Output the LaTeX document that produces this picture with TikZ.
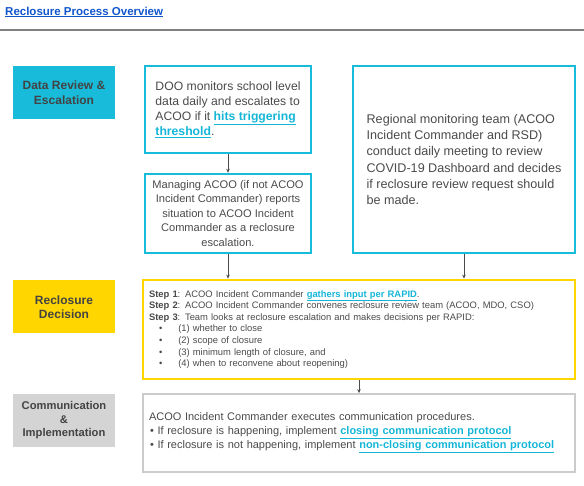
\documentclass[tikz,border=0pt]{standalone}
\usepackage{fontspec}
\setmainfont{Liberation Sans}
\usetikzlibrary{arrows.meta,positioning,calc}
\definecolor{stagecyan}{RGB}{24,188,218}
\definecolor{stageyellow}{RGB}{255,214,0}
\definecolor{stagegray}{RGB}{212,212,212}
\definecolor{linkcyan}{RGB}{20,182,216}
\definecolor{titleblue}{RGB}{17,85,204}
\definecolor{bodygray}{RGB}{74,74,74}
\definecolor{labelgray}{RGB}{67,67,67}
\definecolor{framegray}{RGB}{204,204,204}
\newcommand{\linktext}[1]{\textcolor{linkcyan}{\textbf{\underline{#1}}}}

\begin{document}
\begin{tikzpicture}[x=1pt, y=-1pt,
    stage/.style={minimum width=102pt, minimum height=53pt, align=center, text=labelgray, inner sep=1pt,
        font=\bfseries\fontsize{12}{14.5}\selectfont},
    infobox/.style={draw=stagecyan, line width=2.4pt, align=left, text=bodygray, inner sep=0pt},
    arr/.style={-{Stealth[length=4pt,width=3.5pt]}, line width=0.6pt, draw=bodygray}
]
\useasboundingbox (0,0) rectangle (584,486);

% heading
\node[anchor=west, inner sep=0pt, text=titleblue, font=\bfseries\fontsize{11.5}{14}\selectfont] (title) at (5,12) {\underline{Reclosure Process Overview}};
\draw[line width=1.4pt, draw=gray] (0,30) -- (584,30);

% stage labels
\node[stage, fill=stagecyan] (review) at (64,92.5) {Data Review \&\\Escalation};
\node[stage, fill=stageyellow] (decision) at (64,307) {Reclosure\\Decision};
\node[stage, fill=stagegray, font=\bfseries\fontsize{11.2}{13.5}\selectfont] (comms) at (64,420.5) {Communication\\\&\\Implementation};

% boxes
\node[infobox, minimum width=166pt, minimum height=87pt, font=\fontsize{12.2}{15.2}\selectfont] (doo) at (228,109.5)
    {DOO monitors school level\\data daily and escalates to\\ACOO if it \linktext{hits triggering}\\\linktext{threshold}.};
\node[infobox, minimum width=222pt, minimum height=187pt, font=\fontsize{12.6}{16.2}\selectfont] (regional) at (464,159.5)
    {Regional monitoring team (ACOO\\Incident Commander and RSD)\\conduct daily meeting to review\\COVID-19 Dashboard and decides\\if reclosure review request should\\be made.};
\node[infobox, align=center, minimum width=166pt, minimum height=79pt, font=\fontsize{11.1}{14.5}\selectfont] (managing) at (228,213.5)
    {Managing ACOO (if not ACOO\\Incident Commander) reports\\situation to ACOO Incident\\Commander as a reclosure\\escalation.};
\node[infobox, draw=stageyellow, line width=2.8pt, text width=420pt, minimum height=99pt, inner xsep=6pt,
    font=\fontsize{9.4}{11.6}\selectfont] (steps) at (359,329.5)
    {\textbf{Step 1}: ACOO Incident Commander \linktext{gathers input per RAPID}.\\
     \textbf{Step 2}: ACOO Incident Commander convenes reclosure review team (ACOO, MDO, CSO)\\
     \textbf{Step 3}: Team looks at reclosure escalation and makes decisions per RAPID:\\
     \hspace*{10pt}\textbullet\hspace{16pt}(1) whether to close\\
     \hspace*{10pt}\textbullet\hspace{16pt}(2) scope of closure\\
     \hspace*{10pt}\textbullet\hspace{16pt}(3) minimum length of closure, and\\
     \hspace*{10pt}\textbullet\hspace{16pt}(4) when to reconvene about reopening)};
\node[infobox, draw=framegray, line width=1.8pt, text width=420pt, minimum height=78pt, inner xsep=6pt,
    font=\fontsize{11}{14}\selectfont] (implement) at (359,433)
    {ACOO Incident Commander executes communication procedures.\\
     \hspace*{1pt}\textbullet\ If reclosure is happening, implement \linktext{closing communication protocol}\\
     \hspace*{1pt}\textbullet\ If reclosure is not happening, implement \linktext{non-closing communication protocol}};

% flow
\draw[arr] (doo.south) -- (managing.north);
\draw[arr] (managing.south) -- (managing.south |- steps.north);
\draw[arr] (regional.south) -- (regional.south |- steps.north);
\draw[arr] (steps.south) -- (implement.north);
\end{tikzpicture}
\end{document}
